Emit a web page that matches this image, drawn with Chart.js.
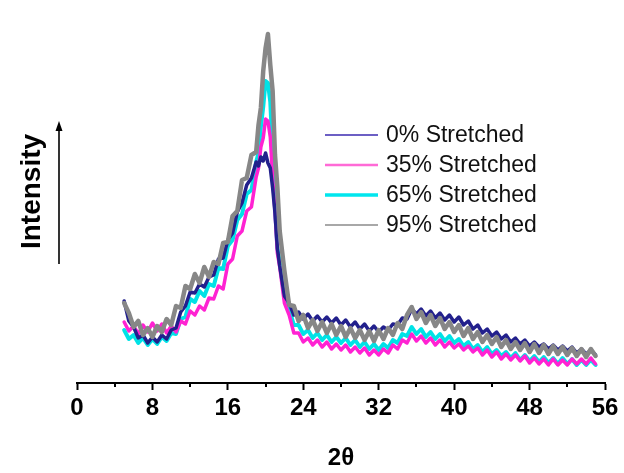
<!DOCTYPE html>
<html>
<head>
<meta charset="utf-8">
<script src="https://cdn.jsdelivr.net/npm/chart.js@4.4.1/dist/chart.umd.min.js"></script>
<style>
  html, body { margin: 0; padding: 0; background: #ffffff; }
  #c { display: block; }
</style>
</head>
<body>
<canvas id="c" width="624" height="473"></canvas>
<script>
// ---- Data (2θ in degrees, intensity in arbitrary units) ----
const twoTheta = [5,5.5,6,6.5,7,7.5,8,8.5,9,9.5,10,10.5,11,11.5,12,12.5,13,13.5,14,14.5,15,15.5,16,16.5,17,17.5,18,18.5,19,
  19.25,19.5,19.75,20,20.25,20.5,20.75,21,21.25,21.5,
  22,22.5,23,23.5,24,24.5,25,25.5,26,26.5,27,27.5,28,28.5,29,29.5,30,30.5,31,31.5,32,32.5,33,33.5,34,34.5,35,35.5,36,36.5,37,37.5,38,38.5,39,39.5,40,40.5,41,41.5,42,42.5,43,43.5,44,44.5,45,45.5,46,46.5,47,47.5,48,48.5,49,49.5,50,50.5,51,51.5,52,52.5,53,53.5,54,54.5,55];

const stretched0 = [82,62,56,45,48,40,46,41,48,44,53,55,71,77,91,90,99,96,106,108,124,125,143,150,171,180,198,205,221,
  217,226,222,230,220,215,195,170,135,117,
  87,80,68,71,64,69,62,67,61,66,60,65,58,63,56,61,54,59,52,57,51,56,53,59,58,65,64,74,69,74,67,72,65,70,63,68,61,66,58,62,54,58,50,54,47,51,44,48,41,45,39,43,37,41,36,39,34,38,33,37,32,36,30,34,29,33,28];

const stretched35 = [61,52,57,49,58,51,60,52,59,50,57,51,62,59,72,68,77,73,85,84,97,94,119,124,147,152,172,176,206,
  215,236,245,264,262,246,205,171,130,116,
  80,68,50,50,41,45,38,43,36,41,34,39,33,38,31,36,30,35,28,33,28,34,30,38,34,43,40,49,42,47,40,45,38,43,36,41,35,39,33,37,31,35,28,33,26,31,24,29,23,28,22,27,20,25,19,24,18,24,18,23,18,24,19,24,19,25,19];

const stretched65 = [53,44,48,40,45,38,44,39,46,42,50,49,64,66,84,81,92,87,99,97,115,114,137,143,163,169,189,193,221,
  230,256,276,302,300,281,230,176,135,121,
  85,74,58,58,49,53,45,50,43,48,41,46,40,45,38,43,36,41,34,39,33,39,35,43,40,49,47,56,49,54,46,51,44,49,42,47,40,44,37,41,34,38,31,36,29,33,27,31,25,30,23,28,22,27,21,26,20,25,19,25,19,24,18,23,18,23,18];

const stretched95 = [80,70,56,62,48,55,46,57,51,64,58,77,75,97,94,109,100,116,106,121,119,140,141,167,172,203,205,228,231,
  258,275,312,335,349,318,292,228,196,152,
  112,78,77,62,68,55,63,52,61,50,59,48,57,46,55,45,53,43,52,42,53,44,55,48,60,54,68,76,64,71,60,68,57,65,54,61,51,58,47,55,44,51,41,48,39,46,36,43,34,41,33,40,31,39,30,38,29,37,29,36,28,35,27,34,26,34,27];

const seriesLabels = ["0% Stretched", "35% Stretched", "65% Stretched", "95% Stretched"];
const xTickValues = [0, 8, 16, 24, 32, 40, 48, 56];
const xMinorTicks = [4, 12, 20, 28, 36, 44, 52];

// ---- Styles ----
const lineColors = ["#22208c", "#ff22d2", "#00e2e6", "#878787"];
const lineWidths = [3.5, 3.5, 4, 4.5];
const drawOrder = [1, 2, 3, 0];   // gray on top, cyan at the bottom
const legendColors = ["#6c5fc4", "#ff6ad6", "#00e6ee", "#a8a8a8"];
const legendWidths = [2, 2.5, 3.5, 2];

function toPoints(arr) { return twoTheta.map((x, i) => ({ x: x, y: arr[i] })); }
const allSeries = [stretched0, stretched35, stretched65, stretched95];

const datasets = allSeries.map((s, i) => ({
  label: seriesLabels[i],
  data: toPoints(s),
  borderColor: lineColors[i],
  backgroundColor: lineColors[i],
  borderWidth: lineWidths[i],
  borderJoinStyle: 'round',
  borderCapStyle: 'round',
  order: drawOrder[i],
  pointRadius: 0,
  tension: 0,
  fill: false
}));

const FONT = "'Liberation Sans', Arial, 'DejaVu Sans', sans-serif";

const decorPlugin = {
  id: 'decor',
  afterDraw(chart) {
    const ctx = chart.ctx;
    const xs = chart.scales.x;
    const base = xs.top;
    ctx.save();
    // minor ticks
    ctx.strokeStyle = '#000';
    ctx.lineWidth = 2;
    xMinorTicks.forEach(v => {
      const px = Math.round(xs.getPixelForValue(v));
      ctx.beginPath();
      ctx.moveTo(px, base);
      ctx.lineTo(px, base + 4);
      ctx.stroke();
    });
    // intensity arrow
    const ax = 59;
    ctx.lineWidth = 1.6;
    ctx.beginPath();
    ctx.moveTo(ax, 264);
    ctx.lineTo(ax, 128);
    ctx.stroke();
    ctx.fillStyle = '#000';
    ctx.beginPath();
    ctx.moveTo(ax, 121);
    ctx.lineTo(ax - 3.5, 131);
    ctx.lineTo(ax + 3.5, 131);
    ctx.closePath();
    ctx.fill();
    // legend (built from the datasets)
    const rowY = [135, 165, 195, 225];
    ctx.font = '23px ' + FONT;
    ctx.textBaseline = 'middle';
    ctx.textAlign = 'left';
    chart.data.datasets.forEach((ds, i) => {
      ctx.strokeStyle = legendColors[i];
      ctx.lineWidth = legendWidths[i];
      ctx.beginPath();
      ctx.moveTo(325, rowY[i]);
      ctx.lineTo(378, rowY[i]);
      ctx.stroke();
      ctx.fillStyle = '#111';
      ctx.fillText(ds.label, 386, rowY[i] + 1);
    });
    ctx.restore();
  }
};

new Chart(document.getElementById('c'), {
  type: 'line',
  data: { datasets: datasets },
  options: {
    responsive: false,
    animation: false,
    devicePixelRatio: 1,
    layout: { padding: { left: 0, right: 19, top: 0, bottom: 0 } },
    plugins: { legend: { display: false }, tooltip: { enabled: false } },
    scales: {
      x: {
        type: 'linear',
        min: 0,
        max: 56,
        afterFit: (s) => { s.height = 90; },
        afterBuildTicks: (s) => { s.ticks = xTickValues.map(v => ({ value: v })); },
        border: { display: true, color: '#000', width: 2 },
        grid: { display: true, drawOnChartArea: false, drawTicks: true, tickLength: 7, tickWidth: 2, tickColor: '#000' },
        ticks: {
          color: '#000',
          padding: 4,
          maxRotation: 0,
          autoSkip: false,
          font: { family: FONT, size: 24, weight: 'bold' }
        },
        title: {
          display: true,
          text: '2θ',
          color: '#000',
          padding: { top: 0, bottom: 0 },
          font: { family: FONT, size: 24, weight: 'bold' }
        }
      },
      y: {
        type: 'linear',
        min: 0,
        max: 383,
        afterFit: (s) => { s.width = 77; },
        border: { display: false },
        grid: { display: false },
        ticks: { display: false },
        title: {
          display: true,
          text: 'Intensity',
          color: '#000',
          padding: { top: 15, bottom: 0 },
          font: { family: FONT, size: 28, weight: 'bold' }
        }
      }
    }
  },
  plugins: [decorPlugin]
});
</script>
</body>
</html>
